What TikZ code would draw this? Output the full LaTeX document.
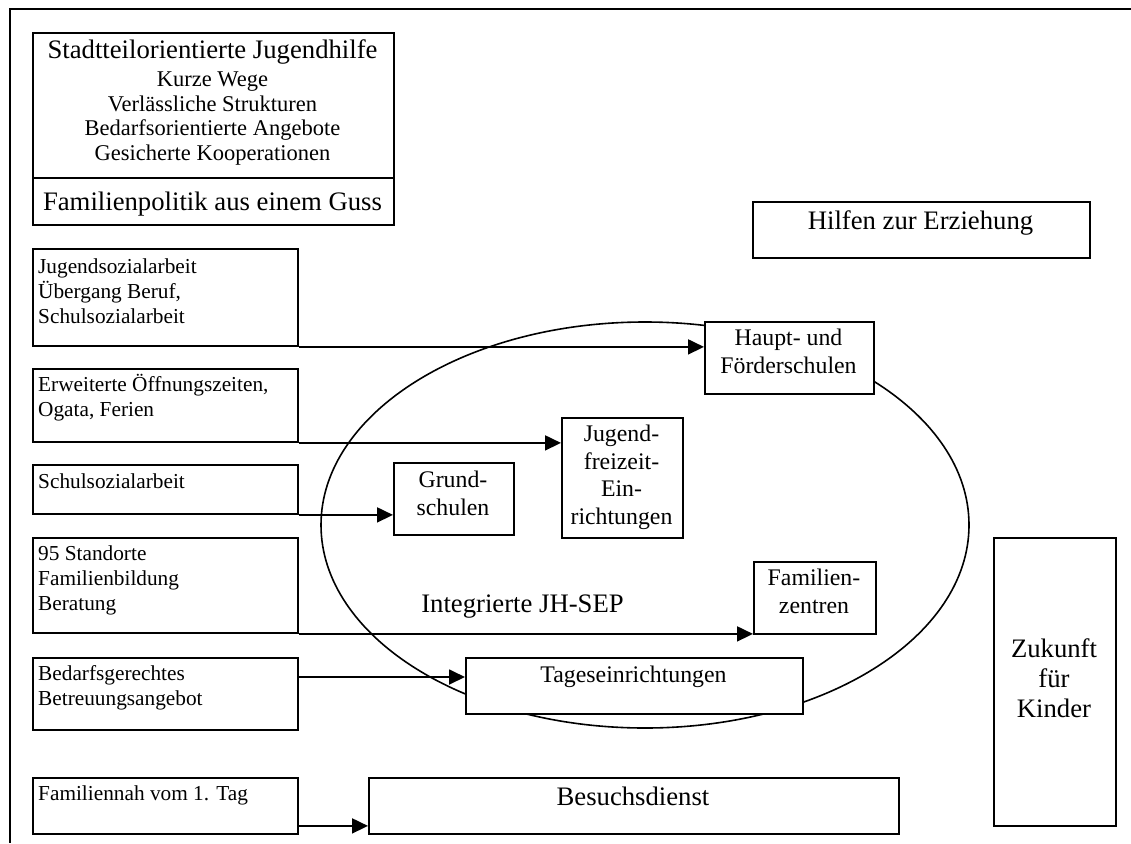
\documentclass[tikz,border=0pt]{standalone}
\usepackage{fontspec}
\setmainfont{Liberation Serif}
\usetikzlibrary{arrows.meta}
\begin{document}
\begin{tikzpicture}[x=1pt,y=-1pt,
  box/.style={draw, line width=1.9pt, fill=white, inner sep=0pt, anchor=north west},
  conn/.style={line width=1.8pt, -{Triangle[length=16pt,width=15pt]}},
  txt/.style={inner sep=0pt, anchor=base},
  ltxt/.style={inner sep=0pt, anchor=base west, align=left, font=\fontsize{21.3pt}{25pt}\selectfont},
  bigfont/.style={font=\fontsize{26.7pt}{30pt}\selectfont},
  midfont/.style={font=\fontsize{23.8pt}{27.5pt}\selectfont},
  subfont/.style={font=\fontsize{22.5pt}{24.4pt}\selectfont}]
\useasboundingbox (0,0) rectangle (1131,843);

% outer frame (top and left edge only)
\draw[line width=2pt] (1131,9) -- (10,9) -- (10,843);

% the integrated planning ellipse
\draw[line width=1.6pt] (645,525) ellipse [x radius=324pt, y radius=203pt];

% heading box (multi-line texts are placed by the baseline of their last line)
\node[box, minimum width=361pt, minimum height=145pt] (head) at (32,32) {};
\node[box, minimum width=361pt, minimum height=47pt] (guss) at (32,177) {};
\node[txt, bigfont] (headtitle) at (212.5,59) {Stadtteilorientierte Jugendhilfe};
\node[txt, subfont, align=center] (headsub) at (212.5,160)
  {Kurze Wege\\Verlässliche Strukturen\\Bedarfsorientierte Angebote\\Gesicherte Kooperationen};
\node[txt, bigfont] (gusstext) at (212.5,210) {Familienpolitik aus einem Guss};

% Hilfen zur Erziehung
\node[box, minimum width=337pt, minimum height=56pt] (hze) at (752,201) {};
\node[txt, bigfont] (hzetext) at (920.5,229) {Hilfen zur Erziehung};

% left column
\node[box, minimum width=265pt, minimum height=97pt] (b1) at (32,248) {};
\node[ltxt] (b1t) at (38,323) {Jugendsozialarbeit\\Übergang Beruf,\\Schulsozialarbeit};
\node[box, minimum width=265pt, minimum height=73pt] (b2) at (32,368) {};
\node[ltxt] (b2t) at (38,416) {Erweiterte Öffnungszeiten,\\Ogata, Ferien};
\node[box, minimum width=265pt, minimum height=49pt] (b3) at (32,464) {};
\node[ltxt] (b3t) at (38,488) {Schulsozialarbeit};
\node[box, minimum width=265pt, minimum height=95pt] (b4) at (32,537) {};
\node[ltxt] (b4t) at (38,610) {95 Standorte\\Familienbildung\\Beratung};
\node[box, minimum width=265pt, minimum height=72pt] (b5) at (32,657) {};
\node[ltxt] (b5t) at (38,705) {Bedarfsgerechtes\\Betreuungsangebot};
\node[box, minimum width=265pt, minimum height=56pt] (b6) at (32,777) {};
\node[ltxt] (b6t) at (38,800) {Familiennah vom 1. Tag};

% institutions
\node[box, minimum width=169pt, minimum height=72pt] (haupt) at (704,321) {};
\node[txt, midfont, align=center] (hauptt) at (788.5,373) {Haupt- und\\Förderschulen};
\node[box, minimum width=121pt, minimum height=120pt] (jfz) at (561,417) {};
\node[txt, midfont, align=center] (jfzt) at (621.5,524) {Jugend-\\freizeit-\\Ein-\\richtungen};
\node[box, minimum width=120pt, minimum height=72pt] (grund) at (393,462) {};
\node[txt, midfont, align=center] (grundt) at (453,515) {Grund-\\schulen};
\node[box, minimum width=122pt, minimum height=72pt] (famz) at (753,561) {};
\node[txt, midfont, align=center] (famzt) at (814,613) {Familien-\\zentren};
\node[box, minimum width=337pt, minimum height=56pt] (tage) at (465,657) {};
\node[txt, midfont] (taget) at (633.5,682) {Tageseinrichtungen};
\node[txt, bigfont] (jhsep) at (522.5,612) {Integrierte JH-SEP};

\node[box, minimum width=530pt, minimum height=56pt] (bes) at (368,777) {};
\node[txt, bigfont] (best) at (633,805) {Besuchsdienst};

\node[box, minimum width=122pt, minimum height=288pt] (zuk) at (993,537) {};
\node[txt, bigfont, align=center] (zukt) at (1054,717) {Zukunft\\für\\Kinder};

% connectors
\draw[conn] (b1.south east) -- (b1.south east -| haupt.west);
\draw[conn] (b2.south east) -- (b2.south east -| jfz.west);
\draw[conn] (b3.south east) -- (b3.south east -| grund.west);
\draw[conn] (b4.south east) -- (b4.south east -| famz.west);
\draw[conn] ([yshift=-20pt]b5.north east) -- ([yshift=-20pt]b5.north east -| tage.west);
\draw[conn] ([yshift=9pt]b6.south east) -- ([yshift=9pt]b6.south east -| bes.west);
\end{tikzpicture}
\end{document}
